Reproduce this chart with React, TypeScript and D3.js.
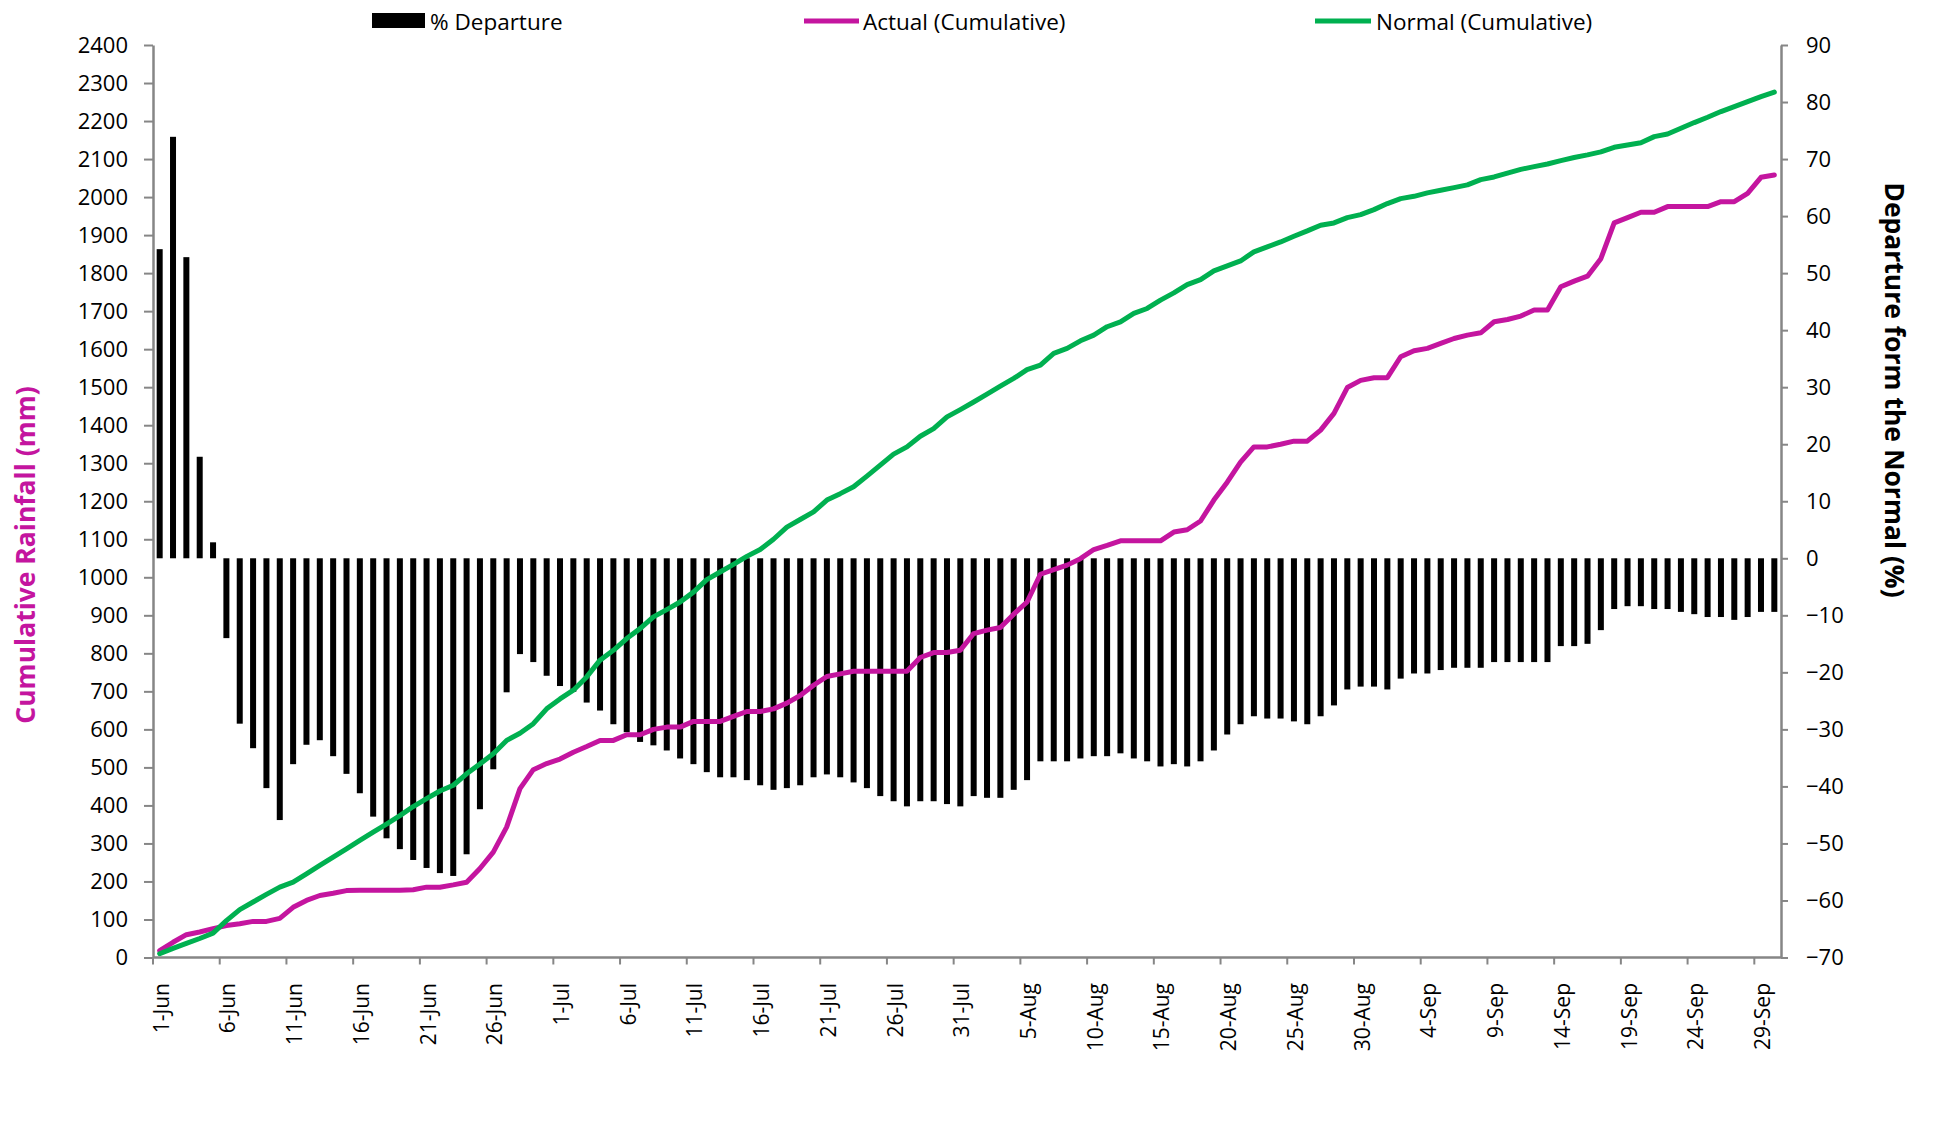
import { useRef, useEffect } from 'react'
import * as d3 from 'd3'

const width = 1933
const height = 1135
const plot = { left: 153, right: 1781, top: 45, bottom: 957.5 }

const axisGrey = '#868686'
const actualColor = '#C4159F'
const normalColor = '#00B050'
const fontFamily = "'Open Sans', sans-serif"

// 1 Jun .. 30 Sep
const days = d3.timeDay.range(new Date(2021, 5, 1), new Date(2021, 9, 1))
const categories = days.map(d3.timeFormat('%-d-%b'))

// daily % departure of cumulative rainfall from normal
const departure = [
  54.2, 73.9, 52.8, 17.8, 2.8, -14.0, -29.0, -33.3, -40.3, -45.9,
  -36.1, -32.7, -31.9, -34.7, -37.8, -41.2, -45.3, -49.1, -51.0, -52.9,
  -54.3, -55.2, -55.7, -51.9, -44.0, -37.0, -23.5, -16.8, -18.2, -20.6,
  -22.4, -23.4, -25.3, -26.7, -29.1, -30.5, -32.2, -32.8, -33.7, -35.1,
  -36.1, -37.5, -38.4, -38.4, -38.9, -39.8, -40.6, -40.3, -39.8, -38.4,
  -37.9, -38.4, -39.3, -40.3, -41.7, -42.6, -43.5, -42.6, -42.6, -43.1,
  -43.5, -41.7, -42.0, -42.0, -40.6, -38.9, -35.6, -35.6, -35.6, -35.1,
  -34.7, -34.7, -34.2, -35.1, -35.6, -36.5, -36.1, -36.5, -35.6, -33.7,
  -30.9, -29.1, -27.7, -28.1, -28.1, -28.6, -29.1, -27.7, -25.8, -23.0,
  -22.5, -22.5, -23.0, -21.1, -20.2, -20.2, -19.6, -19.2, -19.2, -19.2,
  -18.2, -18.2, -18.2, -18.2, -18.2, -15.4, -15.4, -15.0, -12.6, -8.9,
  -8.4, -8.4, -8.9, -8.9, -9.4, -9.8, -10.3, -10.3, -10.8, -10.3,
  -9.4, -9.4,
]

// cumulative actual rainfall (mm)
const actual = [
  18, 40, 60, 67, 76, 84, 89, 95, 95, 103,
  132, 150, 163, 169, 176, 177, 177, 177, 177, 178,
  185, 185, 191, 198, 234, 277, 343, 444, 494, 510,
  522, 540, 555, 571, 571, 586, 586, 600, 606, 606,
  621, 621, 621, 634, 647, 647, 654, 669, 689, 716,
  739, 746, 753, 753, 753, 753, 753, 789, 802, 802,
  808, 852, 861, 868, 903, 935, 1008, 1020, 1032, 1049,
  1073, 1084, 1096, 1096, 1096, 1096, 1119, 1125, 1148, 1203,
  1250, 1303, 1343, 1343, 1350, 1358, 1358, 1387, 1431, 1499,
  1518, 1525, 1525, 1580, 1596, 1602, 1615, 1628, 1637, 1643,
  1672, 1678, 1687, 1703, 1703, 1764, 1779, 1792, 1838, 1932,
  1946, 1960, 1960, 1975, 1975, 1975, 1975, 1988, 1988, 2010,
  2052, 2058,
]

// cumulative normal rainfall (mm)
const normal = [
  10, 24, 37, 50, 64, 97, 126, 146, 166, 185,
  198, 220, 242, 264, 286, 308, 330, 351, 373, 397,
  418, 438, 453, 483, 509, 536, 571, 590, 615, 654,
  680, 703, 738, 782, 808, 839, 865, 896, 915, 935,
  961, 994, 1014, 1034, 1055, 1073, 1100, 1132, 1152, 1172,
  1203, 1220, 1238, 1266, 1295, 1324, 1343, 1371, 1391, 1422,
  1441, 1461, 1482, 1503, 1523, 1546, 1558, 1589, 1602, 1622,
  1637, 1659, 1672, 1694, 1707, 1729, 1748, 1770, 1783, 1806,
  1819, 1832, 1856, 1869, 1882, 1897, 1911, 1926, 1932, 1946,
  1954, 1967, 1983, 1996, 2002, 2011, 2018, 2025, 2032, 2046,
  2053, 2063, 2073, 2080, 2087, 2096, 2104, 2111, 2119, 2131,
  2137, 2143, 2159, 2166, 2181, 2196, 2210, 2225, 2238, 2251,
  2264, 2276,
]

const leftTicks = d3.range(0, 2401, 100)
const rightTicks = d3.range(-70, 91, 10)
const labelEvery = 5

function drawChart(target: SVGSVGElement) {
  const svg = d3.select(target)
  svg.selectAll('*').remove()
  svg.attr('width', width).attr('height', height).style('font-family', fontFamily)

  const x = d3
    .scaleBand<string>()
    .domain(categories)
    .range([plot.left, plot.right])
    .paddingInner(0.55)
    .paddingOuter(0.275)
  const step = x.step()
  const cx = (i: number) => (x(categories[i]) as number) + x.bandwidth() / 2

  const yLeft = d3.scaleLinear().domain([0, 2400]).range([plot.bottom, plot.top])
  const yRight = d3.scaleLinear().domain([-70, 90]).range([plot.bottom, plot.top])

  // bars
  svg
    .append('g')
    .selectAll('rect')
    .data(departure)
    .join('rect')
    .attr('x', (_, i) => x(categories[i]) as number)
    .attr('width', x.bandwidth())
    .attr('y', (d) => Math.min(yRight(d), yRight(0)))
    .attr('height', (d) => Math.abs(yRight(d) - yRight(0)))
    .attr('fill', '#000')

  const line = d3
    .line<number>()
    .x((_, i) => cx(i))
    .y((d) => yLeft(d))

  svg
    .append('path')
    .datum(actual)
    .attr('d', line)
    .attr('fill', 'none')
    .attr('stroke', actualColor)
    .attr('stroke-width', 5)
    .attr('stroke-linejoin', 'round')
    .attr('stroke-linecap', 'round')

  svg
    .append('path')
    .datum(normal)
    .attr('d', line)
    .attr('fill', 'none')
    .attr('stroke', normalColor)
    .attr('stroke-width', 5)
    .attr('stroke-linejoin', 'round')
    .attr('stroke-linecap', 'round')

  // left axis
  const leftAxis = d3
    .axisLeft(yLeft)
    .tickValues(leftTicks)
    .tickFormat(d3.format('d'))
    .tickSize(9)
    .tickSizeOuter(0)
    .tickPadding(16)
  const gl = svg.append('g').attr('transform', `translate(${plot.left},0)`).call(leftAxis)

  // right axis
  const rightAxis = d3
    .axisRight(yRight)
    .tickValues(rightTicks)
    .tickFormat(d3.format('d'))
    .tickSize(7)
    .tickSizeOuter(0)
    .tickPadding(18)
  const gr = svg.append('g').attr('transform', `translate(${plot.right},0)`).call(rightAxis)

  for (const g of [gl, gr]) {
    g.select('.domain').attr('stroke', axisGrey).attr('stroke-width', 2.5)
    g.selectAll('.tick line').attr('stroke', axisGrey).attr('stroke-width', 2)
    g.selectAll('.tick text').attr('fill', '#000').attr('font-size', 22).attr('font-family', fontFamily)
  }

  // category axis
  const gx = svg.append('g')
  gx.append('line')
    .attr('x1', plot.left)
    .attr('x2', plot.right)
    .attr('y1', plot.bottom)
    .attr('y2', plot.bottom)
    .attr('stroke', axisGrey)
    .attr('stroke-width', 2.5)

  const boundaries = d3.range(0, categories.length, labelEvery)
  gx.selectAll('.xtick')
    .data(boundaries)
    .join('line')
    .attr('class', 'xtick')
    .attr('x1', (i) => plot.left + i * step)
    .attr('x2', (i) => plot.left + i * step)
    .attr('y1', plot.bottom)
    .attr('y2', plot.bottom + 7)
    .attr('stroke', axisGrey)
    .attr('stroke-width', 2)

  gx.selectAll('.xlabel')
    .data(boundaries)
    .join('text')
    .attr('class', 'xlabel')
    .attr('transform', (i) => `translate(${cx(i) + 9},983) rotate(-90)`)
    .attr('text-anchor', 'end')
    .attr('font-size', 21)
    .attr('fill', '#000')
    .text((i) => categories[i])

  // axis titles
  svg
    .append('text')
    .attr('transform', 'translate(25,555) rotate(-90)')
    .attr('text-anchor', 'middle')
    .attr('dominant-baseline', 'central')
    .attr('font-size', 26.5)
    .attr('font-weight', 'bold')
    .attr('fill', actualColor)
    .text('Cumulative Rainfall (mm)')

  svg
    .append('text')
    .attr('transform', 'translate(1895,390) rotate(90)')
    .attr('text-anchor', 'middle')
    .attr('dominant-baseline', 'central')
    .attr('font-size', 26.5)
    .attr('font-weight', 'bold')
    .attr('fill', '#000')
    .text('Departure form the Normal (%)')

  // legend
  const legend = svg.append('g').attr('font-size', 22.5).attr('fill', '#000')
  legend.append('rect').attr('x', 372).attr('y', 13).attr('width', 53).attr('height', 15).attr('fill', '#000')
  legend.append('text').attr('x', 430).attr('y', 21).attr('dominant-baseline', 'central').text('% Departure')

  legend
    .append('line')
    .attr('x1', 804)
    .attr('x2', 859)
    .attr('y1', 21)
    .attr('y2', 21)
    .attr('stroke', actualColor)
    .attr('stroke-width', 5)
  legend.append('text').attr('x', 863).attr('y', 21).attr('dominant-baseline', 'central').text('Actual (Cumulative)')

  legend
    .append('line')
    .attr('x1', 1315)
    .attr('x2', 1371)
    .attr('y1', 21)
    .attr('y2', 21)
    .attr('stroke', normalColor)
    .attr('stroke-width', 5)
  legend.append('text').attr('x', 1376).attr('y', 21).attr('dominant-baseline', 'central').text('Normal (Cumulative)')
}

export default function App() {
  const targetSVG = useRef<SVGSVGElement>(null)

  useEffect(() => {
    if (targetSVG.current) drawChart(targetSVG.current)
  }, [])

  return (
    <div style={{ position: 'absolute', left: 0, top: 0, background: '#fff' }}>
      <svg ref={targetSVG} />
    </div>
  )
}
